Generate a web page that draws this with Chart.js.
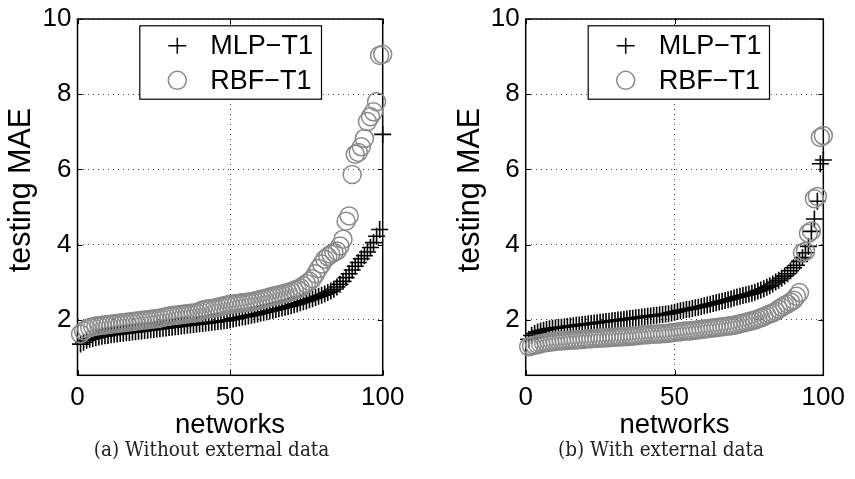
<!DOCTYPE html>
<html>
<head>
<meta charset="utf-8">
<script src="https://cdn.jsdelivr.net/npm/chart.js@4/dist/chart.umd.min.js"></script>
<style>
  html, body { margin: 0; padding: 0; background: #fff; }
  #wrap { position: relative; width: 855px; height: 479px; overflow: hidden; }
  .pane { position: absolute; top: 0; }
  .cap { position: absolute; width: 400px; text-align: center;
         font-family: "DejaVu Serif Condensed", "DejaVu Serif", serif; font-stretch: condensed;
         font-size: 20.5px; line-height: 24px; height: 24px; color: #222; white-space: nowrap; }
</style>
</head>
<body>
<div id="wrap">
  <div class="pane" style="left:0;width:430px;height:479px"><canvas id="c1" width="430" height="479"></canvas></div>
  <div class="pane" style="left:430px;width:425px;height:479px"><canvas id="c2" width="425" height="479"></canvas></div>
  <div class="cap" id="cap1" style="left:11.5px;top:437px"></div>
  <div class="cap" id="cap2" style="left:461px;top:437px"></div>
</div>
<script>
const networks = [1,2,3,4,5,6,7,8,9,10,11,12,13,14,15,16,17,18,19,20,
  21,22,23,24,25,26,27,28,29,30,31,32,33,34,35,36,37,38,39,40,
  41,42,43,44,45,46,47,48,49,50,51,52,53,54,55,56,57,58,59,60,
  61,62,63,64,65,66,67,68,69,70,71,72,73,74,75,76,77,78,79,80,
  81,82,83,84,85,86,87,88,89,90,91,92,93,94,95,96,97,98,99,100];

const mlpWithout = [1.35,1.40,1.45,1.48,1.50,1.52,1.54,1.56,1.57,1.58,
  1.60,1.61,1.62,1.63,1.64,1.65,1.66,1.67,1.68,1.69,
  1.70,1.71,1.72,1.73,1.74,1.75,1.76,1.77,1.78,1.79,
  1.80,1.81,1.82,1.83,1.84,1.85,1.86,1.87,1.88,1.89,
  1.90,1.91,1.92,1.93,1.94,1.95,1.96,1.97,1.98,2.00,
  2.02,2.04,2.05,2.07,2.08,2.10,2.12,2.13,2.15,2.17,
  2.19,2.21,2.23,2.25,2.27,2.29,2.31,2.33,2.35,2.37,
  2.40,2.42,2.45,2.48,2.50,2.53,2.56,2.59,2.62,2.65,
  2.68,2.72,2.76,2.81,2.87,2.94,3.02,3.12,3.22,3.32,
  3.42,3.52,3.62,3.70,3.80,3.92,4.05,4.22,4.40,6.93];

const rbfWithout = [1.62,1.70,1.75,1.79,1.81,1.83,1.84,1.85,1.86,1.87,
  1.88,1.89,1.90,1.91,1.92,1.93,1.94,1.95,1.96,1.97,
  1.98,1.99,2.00,2.01,2.02,2.03,2.04,2.06,2.08,2.10,
  2.11,2.12,2.13,2.14,2.15,2.16,2.17,2.18,2.19,2.22,
  2.26,2.28,2.29,2.30,2.31,2.33,2.35,2.37,2.39,2.41,
  2.42,2.43,2.44,2.45,2.46,2.47,2.48,2.50,2.52,2.54,
  2.56,2.58,2.60,2.62,2.64,2.66,2.68,2.70,2.72,2.75,
  2.78,2.81,2.85,2.90,2.96,3.02,3.09,3.22,3.36,3.48,
  3.61,3.68,3.74,3.79,3.83,3.96,4.14,4.62,4.76,5.86,
  6.40,6.45,6.60,6.82,7.27,7.40,7.53,7.80,9.03,9.06];

const mlpWith = [1.48,1.58,1.63,1.67,1.70,1.72,1.74,1.76,1.77,1.78,
  1.79,1.80,1.81,1.82,1.83,1.84,1.85,1.86,1.87,1.88,
  1.89,1.90,1.91,1.92,1.93,1.94,1.95,1.96,1.97,1.98,
  1.99,2.00,2.01,2.02,2.03,2.04,2.05,2.06,2.07,2.08,
  2.09,2.10,2.11,2.12,2.13,2.14,2.15,2.16,2.18,2.20,
  2.22,2.24,2.25,2.27,2.28,2.30,2.32,2.33,2.35,2.37,
  2.39,2.41,2.43,2.45,2.47,2.49,2.51,2.53,2.55,2.58,
  2.60,2.62,2.64,2.66,2.68,2.70,2.73,2.76,2.79,2.82,
  2.86,2.90,2.95,3.00,3.05,3.10,3.16,3.22,3.30,3.38,
  3.45,3.55,3.65,3.78,3.95,4.35,4.68,5.15,6.15,6.25];

const rbfWith = [1.28,1.30,1.32,1.34,1.36,1.38,1.39,1.40,1.41,1.42,
  1.43,1.44,1.44,1.45,1.45,1.46,1.46,1.47,1.47,1.48,
  1.49,1.49,1.50,1.50,1.51,1.51,1.52,1.52,1.53,1.53,
  1.54,1.54,1.55,1.55,1.56,1.56,1.57,1.58,1.59,1.60,
  1.60,1.61,1.61,1.62,1.62,1.63,1.63,1.64,1.65,1.66,
  1.67,1.68,1.69,1.70,1.70,1.71,1.72,1.73,1.74,1.75,
  1.76,1.77,1.78,1.79,1.80,1.81,1.82,1.83,1.84,1.85,
  1.87,1.89,1.91,1.93,1.95,1.97,1.99,2.02,2.05,2.08,
  2.12,2.15,2.18,2.22,2.28,2.33,2.38,2.42,2.47,2.52,
  2.62,2.72,3.78,3.82,4.30,4.36,5.22,5.28,6.85,6.90];

const xTicks = [0, 50, 100];
const yTicks = [2, 4, 6, 8, 10];
const seriesNames = ['MLP\u2212T1', 'RBF\u2212T1'];
const xTitle = 'networks';
const yTitle = 'testing MAE';
const captions = ['(a) Without external data', '(b) With external data'];

document.getElementById('cap1').textContent = captions[0];
document.getElementById('cap2').textContent = captions[1];

const FONT = '"Liberation Sans", Arial, Helvetica, sans-serif';
const GRAY = '#8a8a8a';

function toPoints(vals) { return vals.map((v, i) => ({ x: networks[i], y: v })); }

const framePlugin = {
  id: 'frame',
  beforeDatasetsDraw(chart) {
    const { ctx, chartArea: a, scales } = chart;
    ctx.save();
    ctx.strokeStyle = '#000';
    ctx.lineWidth = 1.5;
    ctx.strokeRect(a.left, a.top, a.right - a.left, a.bottom - a.top);
    ctx.lineWidth = 1;
    const L = 5;
    ctx.beginPath();
    xTicks.forEach(v => {
      const px = Math.round(scales.x.getPixelForValue(v)) + 0.5;
      ctx.moveTo(px, a.bottom); ctx.lineTo(px, a.bottom - L);
      ctx.moveTo(px, a.top); ctx.lineTo(px, a.top + L);
    });
    yTicks.forEach(v => {
      const py = Math.round(scales.y.getPixelForValue(v)) + 0.5;
      ctx.moveTo(a.left, py); ctx.lineTo(a.left + L, py);
      ctx.moveTo(a.right, py); ctx.lineTo(a.right - L, py);
    });
    ctx.stroke();
    ctx.translate(chart.scales.y.left + 22, 190);
    ctx.rotate(-Math.PI / 2);
    ctx.fillStyle = '#000';
    ctx.font = '30.5px ' + FONT;
    ctx.textAlign = 'center';
    ctx.textBaseline = 'middle';
    ctx.fillText(yTitle, 0, 0);
    ctx.restore();
  }
};

const boxLegendPlugin = {
  id: 'boxLegend',
  afterDraw(chart, args, opts) {
    const { ctx } = chart;
    const b = opts.box;
    if (!b) return;
    ctx.save();
    ctx.fillStyle = '#fff';
    ctx.fillRect(b.x, b.y, b.w, b.h);
    ctx.strokeStyle = '#000';
    ctx.lineWidth = 1.2;
    ctx.strokeRect(b.x + 0.5, b.y + 0.5, b.w, b.h);
    const mx = b.x + 38;
    const rows = [b.y + 20.5, b.y + 55];
    ctx.strokeStyle = '#000';
    ctx.lineWidth = 1.5;
    ctx.beginPath();
    ctx.moveTo(mx - 9, rows[0]); ctx.lineTo(mx + 9, rows[0]);
    ctx.moveTo(mx, rows[0] - 8); ctx.lineTo(mx, rows[0] + 8);
    ctx.stroke();
    ctx.strokeStyle = GRAY;
    ctx.beginPath();
    ctx.arc(mx, rows[1], 9, 0, Math.PI * 2);
    ctx.stroke();
    ctx.fillStyle = '#000';
    ctx.font = '27px ' + FONT;
    ctx.textBaseline = 'middle';
    ctx.textAlign = 'left';
    ctx.fillText(seriesNames[0], b.x + 71, rows[0] + 1);
    ctx.fillText(seriesNames[1], b.x + 71, rows[1] + 1);
    ctx.restore();
  }
};

function makeChart(id, mlp, rbf, padLeft, padRight, box) {
  return new Chart(document.getElementById(id), {
    type: 'scatter',
    data: {
      datasets: [
        { label: seriesNames[1], data: toPoints(rbf), pointStyle: 'circle', pointRadius: 9,
          pointBorderWidth: 1.5, borderColor: GRAY, backgroundColor: 'rgba(0,0,0,0)',
          pointBackgroundColor: 'rgba(0,0,0,0)', pointBorderColor: GRAY, clip: false, order: 0 },
        { label: seriesNames[0], data: toPoints(mlp), pointStyle: 'cross', pointRadius: 8.5,
          pointBorderWidth: 1.6, borderColor: '#000', pointBorderColor: '#000', clip: false, order: 1 }
      ]
    },
    options: {
      responsive: false,
      animation: false,
      devicePixelRatio: 1,
      layout: { padding: { left: padLeft, right: padRight, top: 16, bottom: 39.7 } },
      plugins: { legend: { display: false }, tooltip: { enabled: false }, boxLegend: { box } },
      scales: {
        x: {
          type: 'linear', min: 0, max: 100,
          afterBuildTicks: s => { s.ticks = xTicks.map(v => ({ value: v })); },
          afterFit: s => { s.height = 64; },
          ticks: { autoSkip: false, maxRotation: 0, padding: 10, color: '#000',
                   font: { family: FONT, size: 26, lineHeight: 1 } },
          grid: { color: '#444', lineWidth: 1, drawTicks: false },
          border: { display: false, dash: [1, 4] },
          title: { display: true, text: xTitle, color: '#000', padding: 0,
                   font: { family: FONT, size: 27.5, lineHeight: 1 } }
        },
        y: {
          type: 'linear', min: 0.52, max: 10,
          afterBuildTicks: s => { s.ticks = yTicks.map(v => ({ value: v })); },
          afterFit: s => { s.width = 77.5; },
          ticks: { padding: 6, color: '#000', font: { family: FONT, size: 26, lineHeight: 1 } },
          grid: { color: '#444', lineWidth: 1, drawTicks: false },
          border: { display: false, dash: [1, 4] },
          title: { display: false }
        }
      }
    },
    plugins: [framePlugin, boxLegendPlugin]
  });
}

makeChart('c1', mlpWithout, rbfWithout, 0, 47.3, { x: 139.3, y: 25.3, w: 181.7, h: 73.4 });
makeChart('c2', mlpWith, rbfWith, 18.2, 24.3, { x: 157.7, y: 25.3, w: 181.3, h: 73.4 });
</script>
</body>
</html>
